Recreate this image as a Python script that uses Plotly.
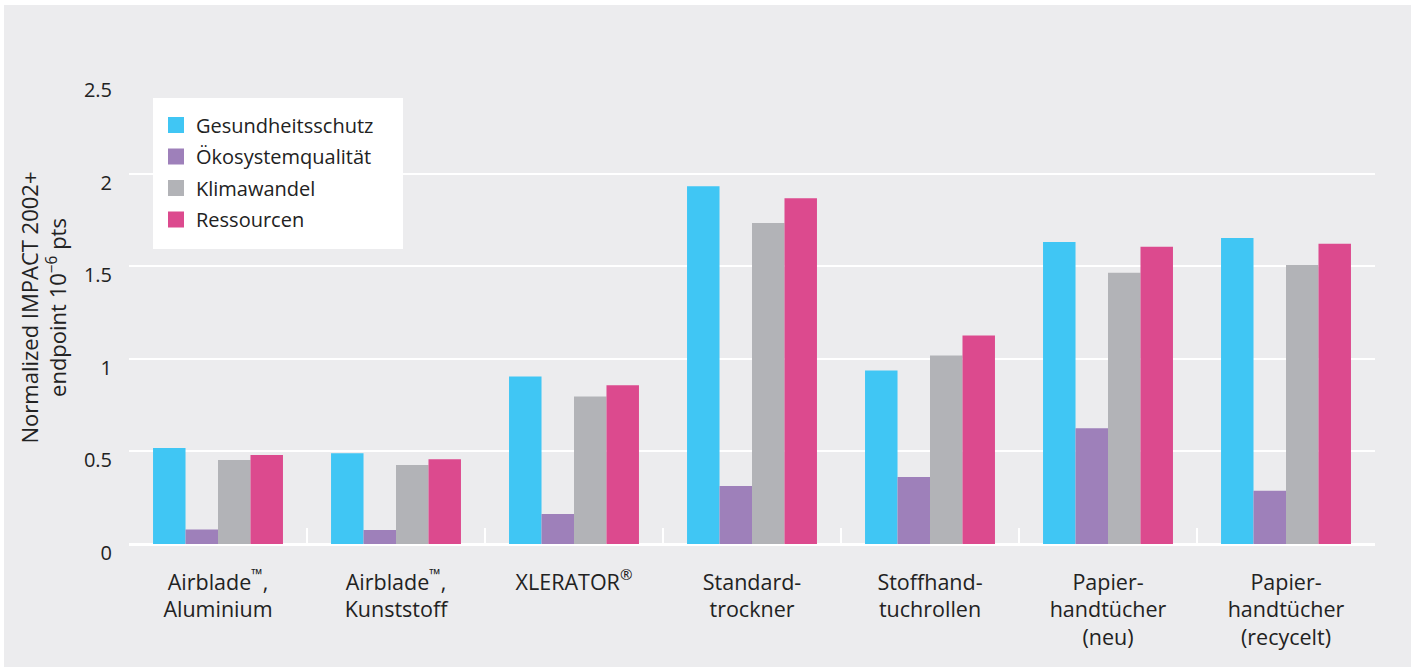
import plotly.graph_objects as go

categories = [
    "Airblade<sup>™</sup>,<br>Aluminium",
    "Airblade<sup>™</sup>,<br>Kunststoff",
    "XLERATOR<sup>®</sup>",
    "Standard-<br>trockner",
    "Stoffhand-<br>tuchrollen",
    "Papier-<br>handtücher<br>(neu)",
    "Papier-<br>handtücher<br>(recycelt)",
]
gesundheit = [0.518, 0.49, 0.905, 1.932, 0.937, 1.631, 1.652]
oekosystem = [0.078, 0.075, 0.162, 0.313, 0.362, 0.625, 0.287]
klima = [0.453, 0.426, 0.797, 1.733, 1.018, 1.464, 1.507]
ressourcen = [0.48, 0.458, 0.857, 1.867, 1.126, 1.605, 1.621]

series_names = ["Gesundheitsschutz", "Ökosystemqualität", "Klimawandel", "Ressourcen"]
series_values = [gesundheit, oekosystem, klima, ressourcen]
colors = ["#40C6F4", "#9E80BA", "#B2B3B7", "#DC4A8E"]
y_ticks = [0, 0.5, 1, 1.5, 2, 2.5]
y_ticktext = ["0", "0.5", "1", "1.5", "2", "2.5"]

FONT = "Open Sans"
TXT = "#222222"
BG = "#ECECEE"

fig = go.Figure()
for name, vals, col in zip(series_names, series_values, colors):
    fig.add_trace(go.Bar(x=categories, y=vals, name=name, marker_color=col,
                         marker_line_width=0, showlegend=False))
for i, (name, col) in enumerate(zip(series_names, colors)):
    fig.add_trace(go.Scatter(x=[None], y=[None], mode="markers", name=name,
                             legendgroup="g%d" % i,
                             marker=dict(symbol="square", size=16, color=col),
                             showlegend=True))

W, H = 1415, 667
L, R, T, B = 129, 40, 81, 123
pw, ph = W - L - R, H - T - B

def px(x):
    return (x - L) / pw

def py(y):
    return (H - B - y) / ph

fig.update_layout(
    width=W, height=H,
    margin=dict(l=L, r=R, t=T, b=B, autoexpand=False),
    paper_bgcolor="white",
    plot_bgcolor=BG,
    barmode="group",
    bargap=0.27,
    bargroupgap=0,
    font=dict(family=FONT, color=TXT, size=20),
    legend=dict(
        x=px(156), y=py(105.5), xanchor="left", yanchor="top",
        bgcolor="rgba(0,0,0,0)", borderwidth=0,
        font=dict(family=FONT, size=20, color=TXT),
        itemsizing="trace",
        traceorder="grouped",
        tracegroupgap=2.5,
    ),
    xaxis=dict(
        showgrid=False, zeroline=False,
        showline=False,
        ticks="inside", tickson="boundaries", ticklen=16, tickwidth=2,
        tickcolor="white",
        tickfont=dict(family=FONT, size=21.5, color=TXT),
        ticklabelstandoff=23,
    ),
    yaxis=dict(
        range=[0, 2.5],
        tickvals=y_ticks, ticktext=y_ticktext,
        showgrid=True, gridcolor="white", gridwidth=2,
        zeroline=True, zerolinecolor="white", zerolinewidth=3,
        showline=False, ticks="",
        tickfont=dict(family=FONT, size=20, color=TXT),
        ticklabelstandoff=16,
        ticklabelshift=9,
    ),
    shapes=[
        dict(type="rect", xref="paper", yref="paper", layer="below",
             x0=px(4), x1=px(1411), y0=py(667), y1=py(5),
             fillcolor=BG, line_width=0),
        dict(type="rect", xref="paper", yref="paper", layer="above",
             x0=px(153), x1=px(403), y0=py(249), y1=py(98),
             fillcolor="white", line_width=0),
    ],
    annotations=[dict(
        text="Normalized IMPACT 2002+<br>endpoint 10<sup>−6</sup> pts",
        xref="paper", yref="paper",
        x=px(42.5), y=py(308),
        xanchor="center", yanchor="middle",
        textangle=-90, showarrow=False,
        font=dict(family=FONT, size=22, color=TXT),
    )],
)

fig.write_html("out.html", config={"displayModeBar": False},
               post_script="document.body.style.margin='0px';document.body.style.padding='0px';")
